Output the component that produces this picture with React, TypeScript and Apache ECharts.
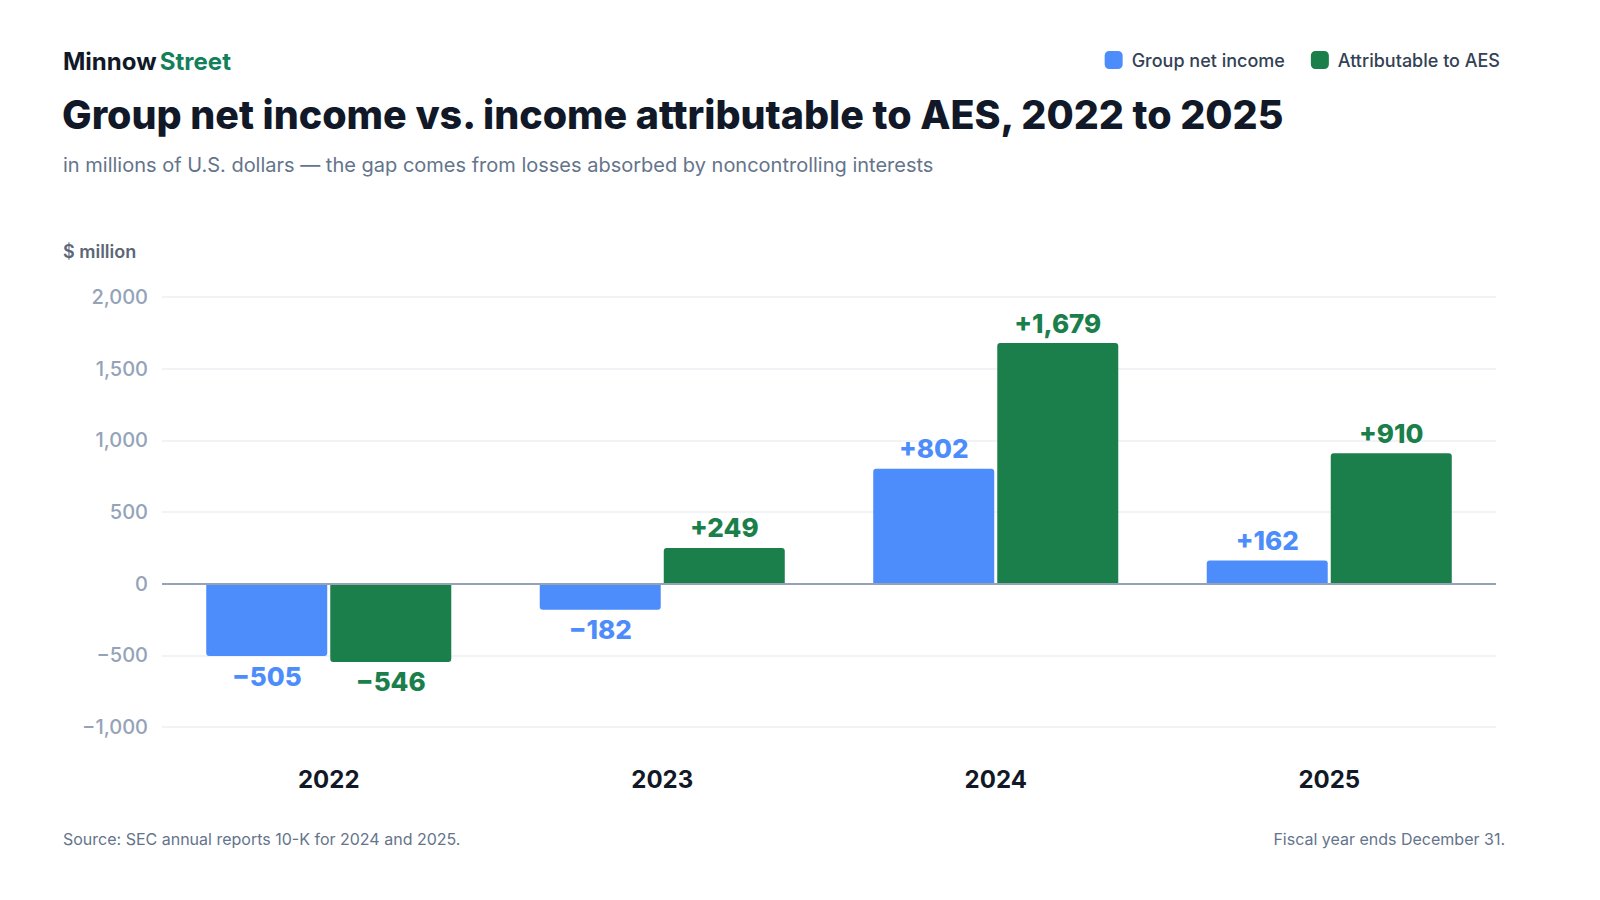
import React, { useEffect, useRef } from "react";
import * as echarts from "echarts";

const categories = ["2022", "2023", "2024", "2025"];
const groupNetIncome = [-505, -182, 802, 162];
const attributableToAES = [-546, 249, 1679, 910];
const yTicks = { min: -1000, max: 2000, interval: 500 };

const BLUE = "#4d8dfb";
const GREEN = "#1b7f4b";
const FONT = "Inter, 'Noto Sans', sans-serif";

const fmt = (v: number) => Math.abs(v).toLocaleString("en-US");
const signed = (v: number) => (v > 0 ? "+" : v < 0 ? "\u2212" : "") + fmt(v);

function barData(values: number[]) {
  return values.map((v) => ({
    value: v,
    label: { position: v >= 0 ? "top" : "bottom" },
    itemStyle: { borderRadius: v >= 0 ? [3, 3, 0, 0] : [0, 0, 3, 3] },
  }));
}

export default function App() {
  const ref = useRef<HTMLDivElement>(null);
  useEffect(() => {
    if (!ref.current) return;
    const chart = echarts.init(ref.current, undefined, { renderer: "svg" });
    const labelCommon = (color: string) => ({
      show: true,
      distance: 7,
      color,
      fontFamily: FONT,
      fontSize: 26,
      fontWeight: 800,
      formatter: (p: any) => signed(p.value),
    });
    chart.setOption({
      animation: false,
      backgroundColor: "#ffffff",
      textStyle: { fontFamily: FONT },
      grid: { left: 162, right: 104, top: 297, bottom: 173 },
      legend: {
        top: 46,
        right: 95,
        icon: "roundRect",
        itemWidth: 18,
        itemHeight: 18,
        itemGap: 26,
        textStyle: { fontFamily: FONT, fontSize: 18, fontWeight: 500, color: "#334155", padding: [0, 0, 0, 4] },
        data: ["Group net income", "Attributable to AES"],
      },
      xAxis: {
        type: "category",
        data: categories,
        axisLine: { show: false, onZero: false },
        axisTick: { show: false },
        axisLabel: {
          margin: 40,
          color: "#111827",
          fontFamily: FONT,
          fontSize: 24,
          fontWeight: 700,
        },
      },
      yAxis: {
        type: "value",
        min: yTicks.min,
        max: yTicks.max,
        interval: yTicks.interval,
        axisLine: { show: false },
        axisTick: { show: false },
        splitLine: { lineStyle: { color: "#eceff4", width: 1.5 } },
        axisLabel: {
          margin: 14,
          color: "#94a3b8",
          fontFamily: FONT,
          fontSize: 20,
          fontWeight: 500,
          formatter: (v: number) => (v < 0 ? "\u2212" : "") + fmt(v),
        },
      },
      series: [
        {
          name: "Group net income",
          type: "bar",
          barWidth: 121,
          barGap: "2.5%",
          itemStyle: { color: BLUE },
          label: labelCommon(BLUE),
          data: barData(groupNetIncome),
          markLine: {
            silent: true,
            symbol: "none",
            label: { show: false },
            lineStyle: { color: "#94a3b8", width: 2, type: "solid" },
            data: [{ yAxis: 0 }],
          },
        },
        {
          name: "Attributable to AES",
          type: "bar",
          barWidth: 121,
          barGap: "2.5%",
          itemStyle: { color: GREEN },
          label: labelCommon(GREEN),
          data: barData(attributableToAES),
        },
      ],
      graphic: [
        {
          type: "text",
          left: 63,
          top: 49,
          style: {
            text: "{a|Minnow} {b|Street}",
            rich: {
              a: { fontFamily: FONT, fontSize: 24, fontWeight: 700, fill: "#111827" },
              b: { fontFamily: FONT, fontSize: 24, fontWeight: 700, fill: "#13805c" },
            },
          },
        },
        {
          type: "text",
          left: 62,
          top: 95,
          style: {
            text: "Group net income vs. income attributable to AES, 2022 to 2025",
            fontFamily: FONT,
            fontSize: 39.4,
            fontWeight: 800,
            fill: "#111827",
          },
        },
        {
          type: "text",
          left: 63,
          top: 155,
          style: {
            text: "in millions of U.S. dollars \u2014 the gap comes from losses absorbed by noncontrolling interests",
            fontFamily: FONT,
            fontSize: 20,
            fill: "#64748b",
          },
        },
        {
          type: "text",
          left: 63,
          top: 242,
          style: {
            text: "$ million",
            fontFamily: FONT,
            fontSize: 18,
            fontWeight: 600,
            fill: "#5b6676",
          },
        },
        {
          type: "text",
          left: 63,
          top: 831,
          style: {
            text: "Source: SEC annual reports 10-K for 2024 and 2025.",
            fontFamily: FONT,
            fontSize: 16,
            fill: "#64748b",
          },
        },
        {
          type: "text",
          right: 95,
          top: 831,
          style: {
            text: "Fiscal year ends December 31.",
            fontFamily: FONT,
            fontSize: 16,
            fill: "#64748b",
          },
        },
      ],
    });
    return () => chart.dispose();
  }, []);
  return (
    <div
      ref={ref}
      style={{ position: "fixed", left: 0, top: 0, width: 1600, height: 900, background: "#fff" }}
    />
  );
}
